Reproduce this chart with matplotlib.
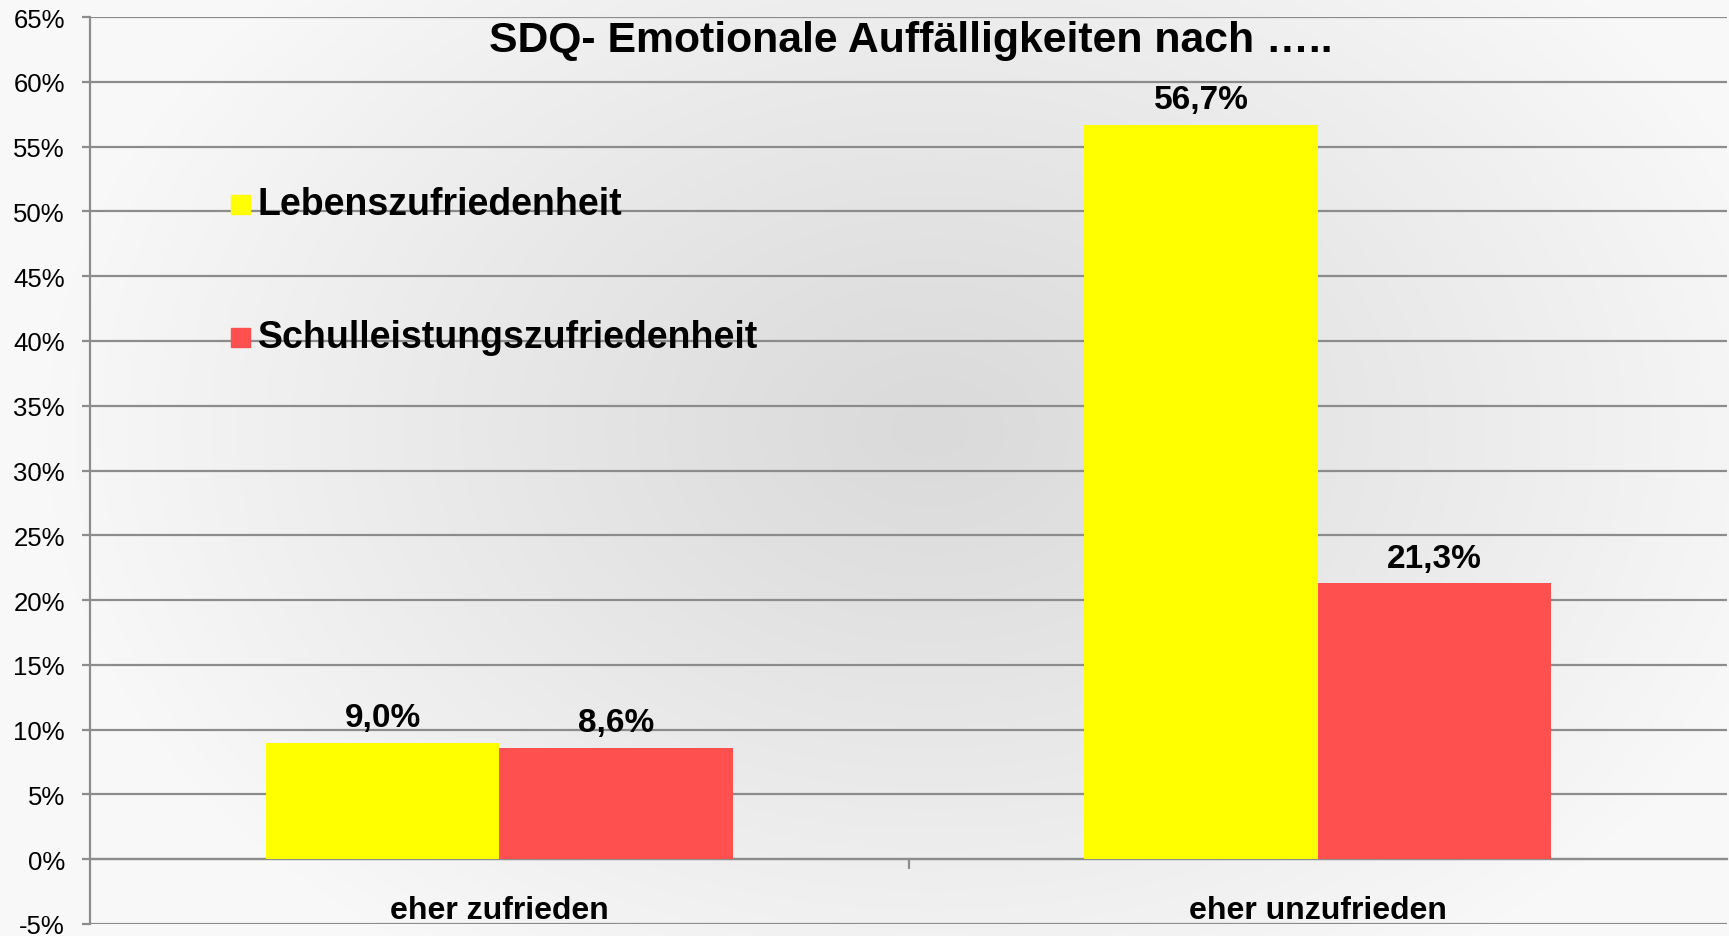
import numpy as np
import matplotlib
matplotlib.use("Agg")
import matplotlib.pyplot as plt
from matplotlib.ticker import FuncFormatter, MultipleLocator

plt.rcParams['font.family'] = ['Liberation Sans', 'DejaVu Sans']

# ---- data ----
categories = ["eher zufrieden", "eher unzufrieden"]
series_names = ["Lebenszufriedenheit", "Schulleistungszufriedenheit"]
leben = [9.0, 56.7]
schule = [8.6, 21.3]
colors = ["#FFFF00", "#FF5050"]
title = "SDQ- Emotionale Auffälligkeiten nach ….."

W, H = 1729, 937
fig = plt.figure(figsize=(W / 100, H / 100), dpi=100)

# background gradient
bg = fig.add_axes([0, 0, 1, 1], zorder=-10)
yy, xx = np.mgrid[0:H, 0:W]
cx, cy = 930, 430
d = np.sqrt(((xx - cx) / 900.0) ** 2 + ((yy - cy) / 650.0) ** 2)
d = np.clip(d, 0, 1) ** 1.1
c_center = np.array([0.855, 0.855, 0.855])
c_edge = np.array([0.975, 0.975, 0.975])
img = c_center[None, None, :] + (c_edge - c_center)[None, None, :] * d[..., None]
bg.imshow(img, aspect='auto', extent=[0, 1, 0, 1], interpolation='bilinear')
bg.axis('off')

ax = fig.add_axes([90 / W, 1 - 925 / H, (1727 - 90) / W, (925 - 18) / H])
ax.set_facecolor('none')

x = np.arange(len(categories))
bw = 0.285
b1 = ax.bar(x - bw / 2, leben, bw, color=colors[0], zorder=3)
b2 = ax.bar(x + bw / 2, schule, bw, color=colors[1], zorder=3)

for bars, vals in ((b1, leben), (b2, schule)):
    for rect, v in zip(bars, vals):
        ax.annotate(f"{v:.1f}%".replace('.', ','),
                    (rect.get_x() + rect.get_width() / 2, v),
                    xytext=(0, 7), textcoords='offset points',
                    ha='center', va='bottom', fontsize=24, fontweight='bold', zorder=5)

ax.set_xlim(-0.5, 1.5)
ax.set_ylim(-5, 65)
ax.yaxis.set_major_locator(MultipleLocator(5))
ax.yaxis.set_major_formatter(FuncFormatter(lambda v, p: f"{v:.0f}%"))
gc = '#8c8c8c'
ax.grid(axis='y', color=gc, linewidth=1.6, zorder=1)
ax.set_axisbelow(True)
ax.tick_params(axis='y', length=6, width=1.6, color=gc, pad=12, labelsize=18.5)

for s in ('top', 'right'):
    ax.spines[s].set_visible(False)
ax.spines['left'].set_color(gc)
ax.spines['left'].set_linewidth(1.6)
ax.spines['bottom'].set_position(('data', 0))
ax.spines['bottom'].set_color(gc)
ax.spines['bottom'].set_linewidth(1.6)

ax.set_xticks(x)
ax.set_xticklabels(categories, fontsize=23, fontweight='bold')
ax.set_xticks([0.5], minor=True)
ax.tick_params(axis='x', which='major', length=0, pad=26)
ax.tick_params(axis='x', which='minor', length=7, width=1.6, color=gc)

# title
fig.text(911 / W, 1 - 41 / H, title, ha='center', va='center',
         fontsize=30.8, fontweight='bold')

# legend
for i, (name, c) in enumerate(zip(series_names, colors)):
    ycen = 1 - (205 + 133 * i) / H
    fig.patches.append(plt.Rectangle((231 / W, ycen - 9.5 / H), 19 / W, 19 / H,
                                     transform=fig.transFigure, color=c, zorder=6))
    fig.text(258 / W, ycen, name, ha='left', va='center', fontsize=27,
             fontweight='bold', zorder=6)

fig.savefig("out.png", dpi=100)
